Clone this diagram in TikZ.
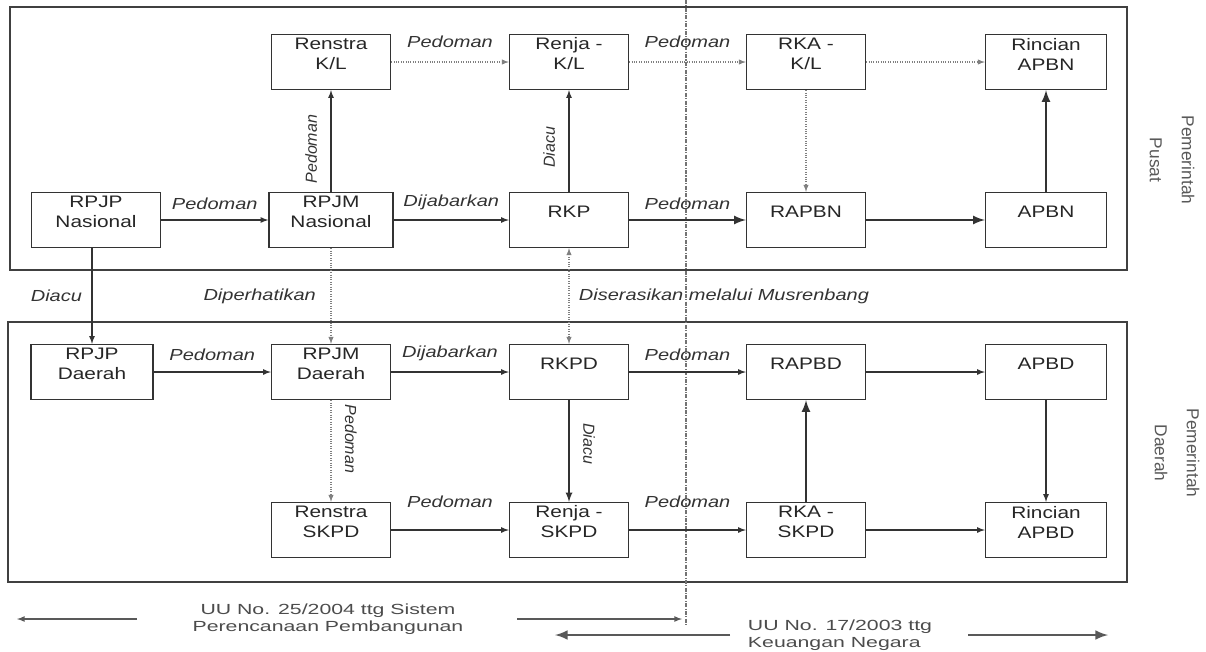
\documentclass[tikz,border=0pt]{standalone}
\usepackage{fontspec}
\setmainfont[FakeStretch=1.25]{Liberation Sans}
\newfontfamily\legendfont[FakeStretch=1.45]{Liberation Sans}
\newfontfamily\plainfont{Liberation Sans}

\begin{document}
\begin{tikzpicture}[x=0.75pt, y=-0.75pt, >=latex,
  box/.style={draw=black!80, line width=1pt, minimum width=119*0.75pt,
    minimum height=55*0.75pt, inner sep=0pt},
  boxtxt/.style={font=\fontsize{12.5}{15}\selectfont, text=black!85,
    align=center, yshift=6pt},
  lbl/.style={font=\fontsize{12}{14}\selectfont\itshape, text=black!80, inner sep=2pt},
  uplbl/.style={lbl, font=\plainfont\fontsize{12}{14}\selectfont\itshape,
    rotate=90, anchor=south, inner sep=10pt},
  dnlbl/.style={lbl, font=\plainfont\fontsize{12}{14}\selectfont\itshape,
    rotate=-90, anchor=south, inner sep=10pt},
  flow/.style={->, line width=1pt, draw=black!80},
  heavy/.style={->, line width=2pt, draw=black!80},
  faint/.style={->, line width=0.8pt, draw=black!50, densely dotted},
  frame/.style={draw=black!75, line width=1.3pt},
  side/.style={font=\plainfont\fontsize{13}{24}\selectfont, text=black!65,
    align=center, rotate=-90},
  legend/.style={font=\legendfont\fontsize{11}{13}\selectfont, text=black!70},
]
  \useasboundingbox (0,0) rectangle (1206,651);

  % Frames and divider
  \draw[frame] (10,7) rectangle (1127,270);
  \draw[frame] (8,322) rectangle (1127,582);
  \draw[black!55, line width=0.8pt, densely dashdotted] (686,0) -- (686,625);

  % Pemerintah Pusat
  \node[box, label={[boxtxt]center:Renstra\\K/L}] (renkl) at (331,62) {};
  \node[box, label={[boxtxt]center:Renja -\\K/L}] (renjakl) at (569,62) {};
  \node[box, label={[boxtxt]center:RKA -\\K/L}] (rkakl) at (806,62) {};
  \node[box, minimum width=121*0.75pt, label={[boxtxt]center:Rincian\\APBN}] (rinapbn) at (1046,62) {};
  \node[box, minimum width=129*0.75pt, label={[boxtxt]center:RPJP\\Nasional}] (rpjpn) at (96,220) {};
  \node[box, minimum width=124*0.75pt, label={[boxtxt]center:RPJM\\Nasional}] (rpjmn) at (331,220) {};
  \node[box, label={[boxtxt]center:RKP}] (rkp) at (569,220) {};
  \node[box, label={[boxtxt]center:RAPBN}] (rapbn) at (806,220) {};
  \node[box, minimum width=121*0.75pt, label={[boxtxt]center:APBN}] (apbn) at (1046,220) {};

  % Pemerintah Daerah
  \node[box, minimum width=122*0.75pt, label={[boxtxt]center:RPJP\\Daerah}] (rpjpd) at (92,372) {};
  \node[box, label={[boxtxt]center:RPJM\\Daerah}] (rpjmd) at (331,372) {};
  \node[box, label={[boxtxt]center:RKPD}] (rkpd) at (569,372) {};
  \node[box, label={[boxtxt]center:RAPBD}] (rapbd) at (806,372) {};
  \node[box, minimum width=121*0.75pt, label={[boxtxt]center:APBD}] (apbd) at (1046,372) {};
  \node[box, label={[boxtxt]center:Renstra\\SKPD}] (renskpd) at (331,530) {};
  \node[box, label={[boxtxt]center:Renja -\\SKPD}] (renjaskpd) at (569,530) {};
  \node[box, label={[boxtxt]center:RKA -\\SKPD}] (rkaskpd) at (806,530) {};
  \node[box, minimum width=121*0.75pt, label={[boxtxt]center:Rincian\\APBD}] (rinapbd) at (1046,530) {};

  % Connectors, pusat
  \draw[faint] (renkl) -- node[above=8pt, lbl] {Pedoman} (renjakl);
  \draw[faint] (renjakl) -- node[above=8pt, lbl] {Pedoman} (rkakl);
  \draw[faint] (rkakl) -- (rinapbn);
  \draw[flow] (rpjmn) -- node[pos=0.42, uplbl] {Pedoman} (renkl);
  \draw[flow] (rkp) -- node[pos=0.44, uplbl] {Diacu} (renjakl);
  \draw[faint] (rkakl) -- (rapbn);
  \draw[heavy] (apbn) -- (rinapbn);
  \draw[flow] (rpjpn) -- node[above=5pt, lbl] {Pedoman} (rpjmn);
  \draw[flow] (rpjmn) -- node[above=5pt, lbl] {Dijabarkan} (rkp);
  \draw[heavy] (rkp) -- node[above=5pt, lbl] {Pedoman} (rapbn);
  \draw[heavy] (rapbn) -- (apbn);

  % Connectors, pusat to daerah
  \draw[flow] (rpjpn.south -| rpjpd.north) -- node[left=5pt, lbl] {Diacu} (rpjpd.north);
  \draw[faint] (rpjmn) -- node[left=9pt, lbl] {Diperhatikan} (rpjmd);
  \draw[faint, <->] (rkp) -- node[right=5pt, lbl] {Diserasikan melalui Musrenbang} (rkpd);

  % Connectors, daerah
  \draw[flow] (rpjpd) -- node[above=6pt, lbl] {Pedoman} (rpjmd);
  \draw[flow] (rpjmd) -- node[above=6pt, lbl] {Dijabarkan} (rkpd);
  \draw[flow] (rkpd) -- node[above=6pt, lbl] {Pedoman} (rapbd);
  \draw[flow] (rapbd) -- (apbd);
  \draw[faint] (rpjmd) -- node[pos=0.38, dnlbl] {Pedoman} (renskpd);
  \draw[flow, line width=1.4pt] (rkpd) -- node[pos=0.43, dnlbl] {Diacu} (renjaskpd);
  \draw[flow] (renskpd) -- node[above=14pt, lbl] {Pedoman} (renjaskpd);
  \draw[flow] (renjaskpd) -- node[above=14pt, lbl] {Pedoman} (rkaskpd);
  \draw[heavy] (rkaskpd) -- (rapbd);
  \draw[flow] (apbd) -- (rinapbd);
  \draw[flow] (rkaskpd) -- (rinapbd);

  % Side labels
  \node[side] (pusat) at (1172,160) {Pemerintah\\Pusat};
  \node[side] (daerah) at (1177,453) {Pemerintah\\Daerah};

  % Legend
  \node[legend, align=center] (uu25) at (328,619) {UU No. 25/2004 ttg Sistem\\Perencanaan Pembangunan};
  \node[legend, align=left] (uu17) at (840,635) {UU No. 17/2003 ttg\\Keuangan Negara};
  \coordinate (a1) at (137,619);
  \coordinate (a2) at (17,619);
  \coordinate (b1) at (517,619);
  \coordinate (b2) at (682,619);
  \coordinate (c1) at (730,635);
  \coordinate (c2) at (555,635);
  \coordinate (d1) at (968,635);
  \coordinate (d2) at (1108,635);
  \draw[flow, draw=black!65] (a1) -- (a2);
  \draw[flow, draw=black!65] (b1) -- (b2);
  \draw[->, line width=2.2pt, draw=black!65] (c1) -- (c2);
  \draw[->, line width=2.2pt, draw=black!65] (d1) -- (d2);
\end{tikzpicture}
\end{document}
